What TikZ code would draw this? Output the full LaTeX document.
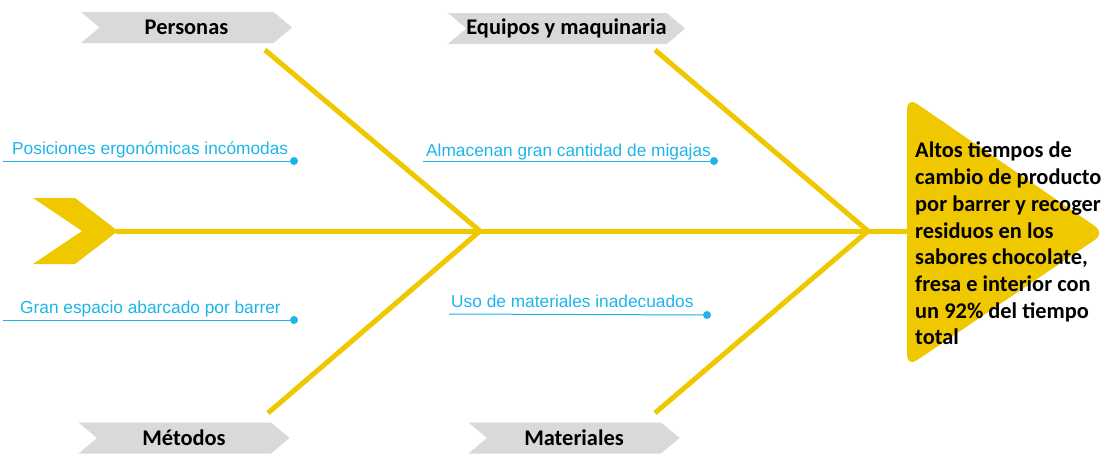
\documentclass[tikz,border=0pt]{standalone}
\usepackage{fontspec}
\setmainfont{Carlito}
\newfontfamily\causefont{Liberation Sans}
\usetikzlibrary{shapes.symbols}
\definecolor{bonecolor}{RGB}{240,200,0}
\definecolor{headgray}{RGB}{217,217,217}
\definecolor{causeblue}{RGB}{30,180,235}
\tikzstyle{header} = [signal, signal to=east, signal from=west, signal pointer angle=80, fill=headgray, minimum height=31pt, minimum width=211pt, inner sep=0pt, font=\bfseries\fontsize{22.4}{26}\selectfont]
\tikzstyle{bone} = [line width=5pt, draw=bonecolor]
\tikzstyle{cause} = [text=causeblue, anchor=base west, inner sep=0pt, font=\causefont\fontsize{17.3}{20}\selectfont]
\tikzstyle{dot} = [circle, fill=causeblue, inner sep=0pt, minimum size=8pt]
\tikzstyle{underline} = [draw=causeblue, line width=1pt]
\tikzstyle{effect} = [anchor=north west, align=left, inner sep=0pt, font=\bfseries\fontsize{22.4}{26.7}\selectfont]

\begin{document}
\begin{tikzpicture}[x=1pt, y=-1pt]
        \useasboundingbox (0,0) rectangle (1110,455);

        \node(personas) [header] at (186.5,27.5) {Personas};
        \node(equipos) [header, minimum width=233pt] at (566.5,28.5) {Equipos y maquinaria};
        \node(metodos) [header] at (184,438) {Métodos};
        \node(materiales) [header] at (574,438) {Materiales};

        \fill[bonecolor] (33,198) -- (75,198) -- (118,231) -- (75,264) -- (33,264) -- (82,231) -- cycle;
        \fill[bonecolor, rounded corners=12pt] (907,97) -- (1105,233) -- (907,367) -- cycle;

        \coordinate(tail) at (116,231);
        \coordinate(head) at (910,231);
        \coordinate(j1) at (480,231);
        \coordinate(j2) at (868,231);
        \coordinate(b1) at (265,50);
        \coordinate(b2) at (268,413);
        \coordinate(b3) at (655,50);
        \coordinate(b4) at (655,413);

        \draw[bone] (tail) -- (head);
        \draw[bone] (b1) -- (j1);
        \draw[bone] (b2) -- (j1);
        \draw[bone] (b3) -- (j2);
        \draw[bone] (b4) -- (j2);

        \node(effect) [effect] at (915,142) {Altos tiempos de\\cambio de producto\\por barrer y recoger\\residuos en los\\sabores chocolate,\\fresa e interior con\\un 92\% del tiempo\\total};

        \node(c1) [cause] at (12,154) {Posiciones ergonómicas incómodas};
        \node(c2) [cause] at (20,313) {Gran espacio abarcado por barrer};
        \node(c3) [cause] at (426,156) {Almacenan gran cantidad de migajas};
        \node(c4) [cause] at (451,307) {Uso de materiales inadecuados};

        \coordinate(s1) at (3,161);
        \coordinate(s2) at (3,320);
        \coordinate(s3) at (423,161);
        \coordinate(s4) at (449,314);
        \node(d1) [dot] at (294,161) {};
        \node(d2) [dot] at (294,320) {};
        \node(d3) [dot] at (714,161) {};
        \node(d4) [dot] at (707,315) {};

        \draw[underline] (s1) -- (d1);
        \draw[underline] (s2) -- (d2);
        \draw[underline] (s3) -- (d3);
        \draw[underline] (s4) -- (d4);
    \end{tikzpicture}
\end{document}
